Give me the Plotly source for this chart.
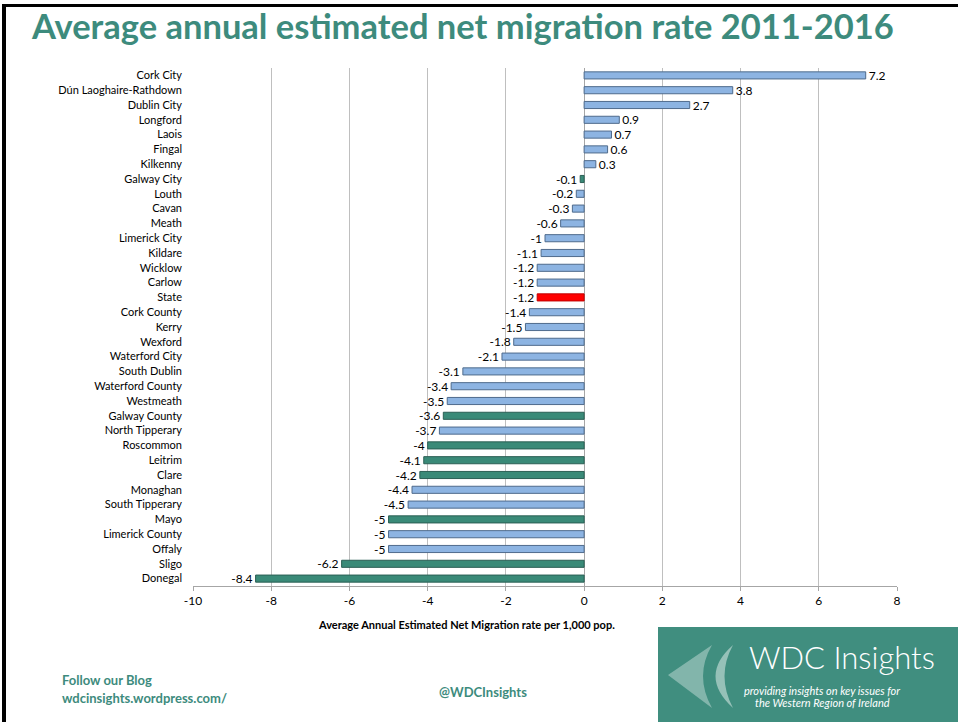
import plotly.graph_objects as go

categories = ["Cork City", "Dún Laoghaire-Rathdown", "Dublin City", "Longford", "Laois", "Fingal",
              "Kilkenny", "Galway City", "Louth", "Cavan", "Meath", "Limerick City", "Kildare",
              "Wicklow", "Carlow", "State", "Cork County", "Kerry", "Wexford", "Waterford City",
              "South Dublin", "Waterford County", "Westmeath", "Galway County", "North Tipperary",
              "Roscommon", "Leitrim", "Clare", "Monaghan", "South Tipperary", "Mayo",
              "Limerick County", "Offaly", "Sligo", "Donegal"]
values = [7.2, 3.8, 2.7, 0.9, 0.7, 0.6, 0.3, -0.1, -0.2, -0.3, -0.6, -1, -1.1, -1.2, -1.2, -1.2,
          -1.4, -1.5, -1.8, -2.1, -3.1, -3.4, -3.5, -3.6, -3.7, -4, -4.1, -4.2, -4.4, -4.5, -5,
          -5, -5, -6.2, -8.4]
groups = ["other", "other", "other", "other", "other", "other", "other", "western", "other",
          "other", "other", "other", "other", "other", "other", "state", "other", "other",
          "other", "other", "other", "other", "other", "western", "other", "western", "western",
          "western", "other", "other", "western", "other", "other", "western", "western"]
x_ticks = [-10, -8, -6, -4, -2, 0, 2, 4, 6, 8]
x_tick_labels = ["-10", "-8", "-6", "-4", "-2", "0", "2", "4", "6", "8"]

fill = {"other": "#8DB4E2", "western": "#3A8A78", "state": "#FF0000"}
edge = {"other": "#4F6B8C", "western": "#2B5F54", "state": "#C00000"}

W, H = 958, 722
L, R, T, B = 193, 61, 68, 136
PW, PH = W - L - R, H - T - B
TEAL = "#3D8B7D"


def px(x):
    return (x - L) / PW


def py(y):
    return 1 - (y - T) / PH


fig = go.Figure()
fig.add_trace(go.Bar(
    y=categories, x=values, orientation="h",
    marker=dict(color=[fill[g] for g in groups],
                line=dict(color=[edge[g] for g in groups], width=1)),
    text=[f"{v:g}" for v in values], textposition="outside", constraintext="none",
    textfont=dict(family="Lato", size=12, color="#000000"),
    cliponaxis=False, showlegend=False,
))

fig.update_layout(
    width=W, height=H,
    margin=dict(l=L, r=R, t=T, b=B, pad=0),
    paper_bgcolor="white", plot_bgcolor="white",
    bargap=0.52,
    font=dict(family="Lato", color="#000000"),
    xaxis=dict(range=[-10, 8], tickvals=x_ticks, ticktext=x_tick_labels, showgrid=True,
               gridcolor="#BFBFBF", gridwidth=1, zeroline=True, zerolinecolor="#A6A6A6",
               zerolinewidth=1, showline=True, linecolor="#A6A6A6", ticks="outside", ticklen=4,
               tickcolor="#A6A6A6", tickfont=dict(family="Lato", size=12, color="#000000"),
               fixedrange=True),
    yaxis=dict(autorange="reversed", showgrid=False, ticks="", showline=False,
               tickfont=dict(family="Lato", size=11, color="#000000"), ticklabelstandoff=10),
)

shapes = []
# slide border (top and left)
shapes.append(dict(type="rect", xref="paper", yref="paper", x0=px(2), x1=px(W), y0=py(7), y1=py(4),
                   fillcolor="#000000", line=dict(width=0), layer="above"))
shapes.append(dict(type="rect", xref="paper", yref="paper", x0=px(2), x1=px(6), y0=py(H), y1=py(4),
                   fillcolor="#000000", line=dict(width=0), layer="above"))
# logo box
shapes.append(dict(type="rect", xref="paper", yref="paper", x0=px(658), x1=px(W), y0=py(H), y1=py(627),
                   fillcolor="#408E7F", line=dict(width=0), layer="above"))


def path(pts):
    out = []
    for cmd, coords in pts:
        out.append(cmd + " " + " ".join(f"{px(x):.5f},{py(y):.5f}" for x, y in coords))
    return " ".join(out) + " Z"


shapes.append(dict(type="path", xref="paper", yref="paper", layer="above",
                   path=path([("M", [(712, 645)]), ("L", [(668, 675)]), ("L", [(712, 708)]),
                              ("Q", [(694, 676), (712, 645)])]),
                   fillcolor="rgba(255,255,255,0.35)", line=dict(width=0)))
shapes.append(dict(type="path", xref="paper", yref="paper", layer="above",
                   path=path([("M", [(733, 645)]), ("Q", [(698, 676), (733, 708)]),
                              ("Q", [(716, 676), (733, 645)])]),
                   fillcolor="rgba(255,255,255,0.45)", line=dict(width=0)))
fig.update_layout(shapes=shapes)

ann = []
ann.append(dict(text="<b>Average annual estimated net migration rate 2011-2016</b>", x=px(29), y=py(25),
                xref="paper", yref="paper", xanchor="left", yanchor="middle", showarrow=False,
                font=dict(family="Lato", size=34.5, color=TEAL)))
ann.append(dict(text="<b>Average Annual Estimated Net Migration rate per 1,000 pop.</b>", x=px(466), y=py(624),
                xref="paper", yref="paper", xanchor="center", yanchor="middle", showarrow=False,
                font=dict(family="Lato", size=11, color="#000000")))
ann.append(dict(text="<b>Follow our Blog</b>", x=px(60), y=py(680),
                xref="paper", yref="paper", xanchor="left", yanchor="middle", showarrow=False,
                font=dict(family="Lato", size=13, color=TEAL)))
ann.append(dict(text="<b>wdcinsights.wordpress.com/</b>", x=px(60), y=py(698),
                xref="paper", yref="paper", xanchor="left", yanchor="middle", showarrow=False,
                font=dict(family="Lato", size=13, color=TEAL)))
ann.append(dict(text="<b>@WDCInsights</b>", x=px(483), y=py(692),
                xref="paper", yref="paper", xanchor="center", yanchor="middle", showarrow=False,
                font=dict(family="Lato", size=13, color=TEAL)))
ann.append(dict(text="WDC Insights", x=px(842), y=py(657),
                xref="paper", yref="paper", xanchor="center", yanchor="middle", showarrow=False,
                font=dict(family="Lato", size=31, color="#FFFFFF", weight=300)))
ann.append(dict(text="<i>providing insights on key issues for</i>", x=px(822), y=py(690),
                xref="paper", yref="paper", xanchor="center", yanchor="middle", showarrow=False,
                font=dict(family="Lato", size=11, color="#FFFFFF")))
ann.append(dict(text="<i>the Western Region of Ireland</i>", x=px(822), y=py(702),
                xref="paper", yref="paper", xanchor="center", yanchor="middle", showarrow=False,
                font=dict(family="Lato", size=11, color="#FFFFFF")))
fig.update_layout(annotations=ann)

fig.write_html("out.html", config={"displayModeBar": False},
               post_script="document.body.style.margin='0';document.body.style.overflow='hidden';")
